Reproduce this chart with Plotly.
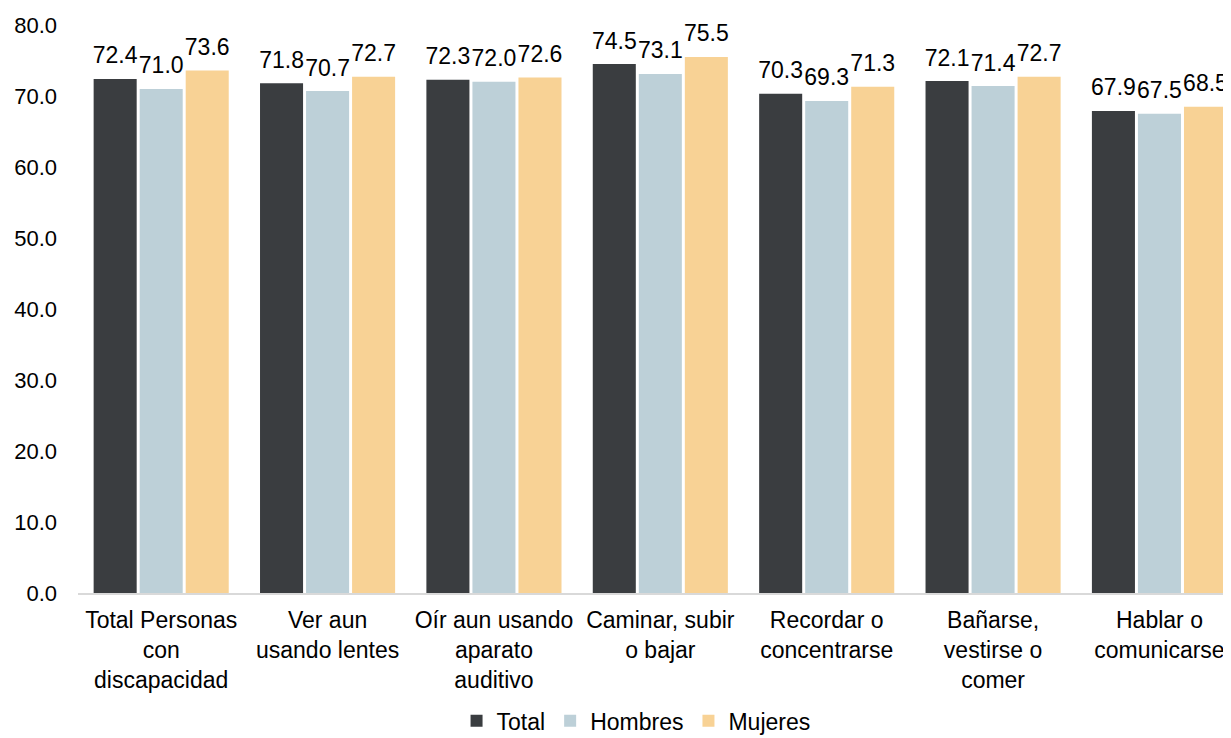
import plotly.graph_objects as go

categories = [
    "Total Personas<br>con<br>discapacidad",
    "Ver aun<br>usando lentes",
    "Oír aun usando<br>aparato<br>auditivo",
    "Caminar, subir<br>o bajar",
    "Recordar o<br>concentrarse",
    "Bañarse,<br>vestirse o<br>comer",
    "Hablar o<br>comunicarse",
]
total = [72.4, 71.8, 72.3, 74.5, 70.3, 72.1, 67.9]
hombres = [71.0, 70.7, 72.0, 73.1, 69.3, 71.4, 67.5]
mujeres = [73.6, 72.7, 72.6, 75.5, 71.3, 72.7, 68.5]
y_ticks = [0, 10, 20, 30, 40, 50, 60, 70, 80]

FONT = "Liberation Sans, Arial, sans-serif"
series = [("Total", total, "#3A3D40"), ("Hombres", hombres, "#BDD0D8"), ("Mujeres", mujeres, "#F8D295")]

fig = go.Figure()
for name, vals, col in series:
    fig.add_trace(go.Bar(
        name=name, x=categories, y=vals, offsetgroup=name,
        marker=dict(color=col, line=dict(width=0)),
    ))
for name, vals, col in series:
    fig.add_trace(go.Scatter(
        x=categories, y=vals, offsetgroup=name, mode="markers+text",
        marker=dict(size=14, opacity=0), showlegend=False, hoverinfo="skip",
        text=[f"{v:.1f}" for v in vals], textposition="top center",
        textfont=dict(family=FONT, size=23, color="#000000"), cliponaxis=False,
    ))

fig.update_layout(
    width=1223, height=730,
    barmode="group", bargap=0.17, bargroupgap=0.065,
    scattermode="group", scattergap=0.17,
    plot_bgcolor="white", paper_bgcolor="white",
    margin=dict(l=70, r=0, t=17, b=145, autoexpand=False),
    font=dict(family=FONT, size=22, color="#000000"),
    legend=dict(orientation="h", x=0.484, xanchor="center", y=-0.225, yanchor="middle",
                font=dict(size=23), itemwidth=30, traceorder="normal"),
    xaxis=dict(showline=True, linecolor="#D9D9D9", linewidth=1.5, range=[-0.5, 6.43], automargin=False,
               ticks="", tickfont=dict(size=23), showgrid=False, ticklabelstandoff=6),
    yaxis=dict(range=[0, 80], tickvals=y_ticks, tickformat=".1f", showgrid=False, showline=False,
               zeroline=False, ticks="", ticklabelstandoff=20, tickfont=dict(size=22), automargin=False),
)
fig.write_html("out.html")
